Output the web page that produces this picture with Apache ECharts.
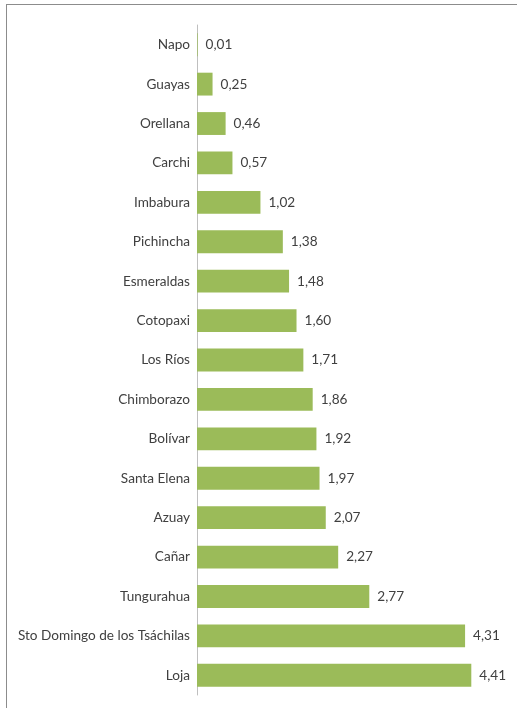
<!DOCTYPE html>
<html><head><meta charset="utf-8">
<script src="https://cdn.jsdelivr.net/npm/echarts@6/dist/echarts.min.js"></script>
<style>
html,body{margin:0;padding:0;background:#fff;}
#frame{position:absolute;left:6px;top:4px;width:520px;height:720px;border-left:1px solid #8c8c8c;border-top:1px solid #8c8c8c;box-sizing:border-box;}
#c{position:absolute;left:0;top:0;width:517px;height:708px;}
</style></head>
<body>
<div id="frame"></div>
<div id="c"></div>
<script>
const categories = ["Napo","Guayas","Orellana","Carchi","Imbabura","Pichincha","Esmeraldas","Cotopaxi","Los Ríos","Chimborazo","Bolívar","Santa Elena","Azuay","Cañar","Tungurahua","Sto Domingo de los Tsáchilas","Loja"];
const values = [0.01,0.25,0.46,0.57,1.02,1.38,1.48,1.60,1.71,1.86,1.92,1.97,2.07,2.27,2.77,4.31,4.41];

const chart = echarts.init(document.getElementById('c'), null, {renderer:'canvas'});
const font = "Lato, sans-serif";
chart.setOption({
  animation:false,
  grid:{left:197, top:25, width:311, height:670, containLabel:false},
  xAxis:{type:'value', min:0, max:5, show:false},
  yAxis:{type:'category', data:categories, inverse:true,
    axisLine:{show:true, lineStyle:{color:'#bfbfbf', width:1}},
    axisTick:{show:false},
    axisLabel:{color:'#404040', fontFamily:font, fontSize:13.6, margin:7}
  },
  series:[{type:'bar', data:values, barWidth:'58%',
    itemStyle:{color:'#9bbb59'},
    label:{show:true, position:'right', distance:8, color:'#404040', fontFamily:font, fontSize:13.6,
      formatter:p=>p.value.toFixed(2).replace('.',',')}
  }]
});
</script>
</body></html>
